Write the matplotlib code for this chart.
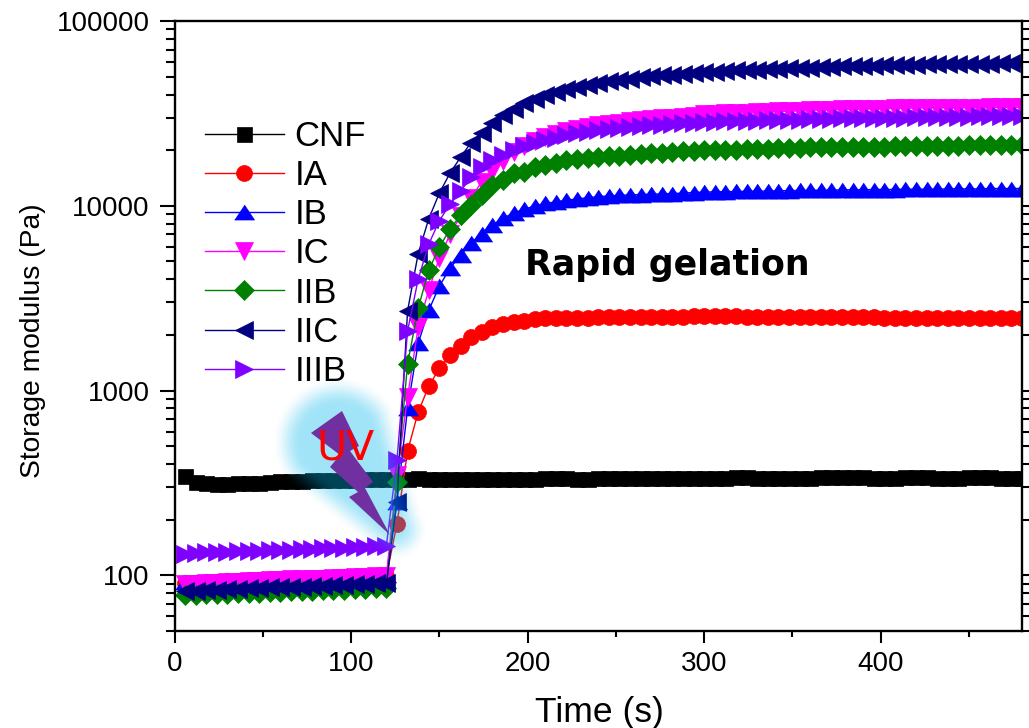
import numpy as np
import matplotlib
matplotlib.use("Agg")
import matplotlib.pyplot as plt
from matplotlib.ticker import FixedLocator, NullFormatter
from matplotlib.patches import Polygon

plt.rcParams["font.family"] = ["Liberation Sans", "DejaVu Sans"]

# time axis, one reading every 6 s
time_s = [6, 12, 18, 24, 30, 36, 42, 48, 54, 60, 66, 72, 78, 84, 90, 96, 102, 108, 114, 120,
          126, 132, 138, 144, 150, 156, 162, 168, 174, 180, 186, 192, 198, 204, 210, 216, 222, 228, 234, 240,
          246, 252, 258, 264, 270, 276, 282, 288, 294, 300, 306, 312, 318, 324, 330, 336, 342, 348, 354, 360,
          366, 372, 378, 384, 390, 396, 402, 408, 414, 420, 426, 432, 438, 444, 450, 456, 462, 468, 474, 480]

cnf = [345, 322, 316, 314, 314, 315, 316, 318, 321, 323, 325, 326, 327, 328, 329, 330, 330, 331, 331, 332,
       332, 334, 335, 334, 333, 332, 331, 331, 332, 332, 333, 333, 334, 334, 335, 335, 335, 334, 334, 335,
       335, 336, 336, 336, 335, 335, 336, 336, 337, 337, 337, 338, 339, 339, 338, 338, 337, 337, 338, 338,
       339, 339, 340, 340, 339, 338, 338, 338, 339, 339, 339, 338, 338, 338, 339, 339, 339, 338, 338, 338]
ia = [91, 91, 92, 92, 93, 93, 94, 94, 95, 95, 96, 96, 96, 97, 97, 98, 98, 98, 99, 99,
      190, 470, 765, 1055, 1320, 1550, 1740, 1945, 2080, 2200, 2280, 2345, 2390, 2430, 2460, 2470, 2475, 2480, 2485, 2490,
      2495, 2500, 2505, 2505, 2510, 2510, 2515, 2515, 2520, 2520, 2520, 2520, 2520, 2515, 2515, 2510, 2510, 2510, 2505, 2505,
      2500, 2500, 2495, 2495, 2490, 2490, 2485, 2485, 2480, 2480, 2475, 2475, 2470, 2470, 2465, 2465, 2460, 2460, 2460, 2460]
ib = [92, 92, 93, 93, 94, 94, 95, 95, 96, 96, 97, 97, 98, 98, 99, 99, 100, 100, 101, 101,
      250, 800, 1800, 2720, 3670, 4590, 5400, 6260, 7080, 7860, 8570, 9120, 9550, 10000, 10300, 10500, 10700, 10900, 11050, 11200,
      11300, 11400, 11450, 11500, 11550, 11600, 11650, 11700, 11800, 11860, 11900, 11920, 11950, 11980, 12000, 12020, 12050, 12080, 12100, 12120,
      12150, 12150, 12200, 12200, 12200, 12250, 12250, 12250, 12300, 12300, 12300, 12300, 12350, 12350, 12350, 12350, 12400, 12400, 12400, 12400]
ic = [90, 90, 91, 91, 92, 92, 93, 93, 94, 94, 95, 95, 96, 96, 97, 97, 98, 98, 99, 99,
      350, 920, 2200, 3500, 5200, 7000, 8800, 11000, 13500, 15500, 17500, 19500, 21000, 22300, 23500, 24500, 25300, 26100, 26800, 27300,
      27800, 28200, 28600, 29000, 29400, 29700, 30000, 30300, 30800, 31300, 31500, 31600, 31800, 31900, 32000, 32200, 32400, 32500, 32700, 32800,
      33000, 33100, 33200, 33300, 33400, 33500, 33600, 33700, 33800, 33800, 33900, 33900, 34000, 34000, 34000, 34000, 34100, 34100, 34100, 34100]
iib = [78, 78, 79, 79, 79, 80, 80, 80, 81, 81, 82, 82, 82, 83, 83, 83, 84, 84, 85, 85,
       320, 1390, 2790, 4480, 5970, 7470, 8890, 10070, 11400, 12900, 13770, 15000, 15200, 16200, 16600, 17000, 17700, 18000, 18200, 18300,
       18500, 18700, 18900, 19000, 19300, 19400, 19500, 19700, 19900, 20000, 20050, 20100, 20150, 20200, 20300, 20400, 20450, 20500, 20600, 20700,
       20700, 20750, 20800, 20800, 20850, 20900, 20900, 20950, 21000, 21000, 21050, 21100, 21100, 21150, 21200, 21200, 21250, 21300, 21300, 21300]
iic = [82, 82, 83, 83, 84, 84, 85, 85, 86, 86, 87, 87, 88, 88, 89, 89, 90, 90, 91, 91,
       250, 2700, 5500, 8500, 11700, 15000, 18300, 22000, 24800, 28000, 31000, 33500, 36000, 38000, 40000, 41500, 43000, 44200, 45300, 46300,
       47200, 48000, 48800, 49500, 50200, 50800, 51300, 51800, 52400, 52800, 53200, 53600, 54000, 54300, 54600, 54900, 55200, 55500, 55800, 56000,
       56300, 56500, 56800, 57000, 57200, 57400, 57600, 57800, 58000, 58100, 58200, 58300, 58400, 58500, 58600, 58700, 58800, 58900, 58900, 59000]
iiib = [131, 132, 133, 133, 134, 135, 135, 136, 137, 137, 138, 139, 139, 140, 141, 141, 142, 143, 144, 145,
        420, 2100, 4000, 6200, 8300, 10200, 12000, 14300, 16200, 17700, 18900, 19950, 21000, 21800, 22600, 23400, 24100, 24700, 25200, 25700,
        26100, 26400, 26700, 27000, 27300, 27500, 27700, 27900, 28200, 28400, 28500, 28600, 28700, 28800, 28900, 29000, 29100, 29200, 29300, 29400,
        29500, 29600, 29700, 29700, 29800, 29900, 29900, 30000, 30000, 30100, 30100, 30200, 30200, 30300, 30400, 30500, 30600, 30700, 30700, 30800]

LABELS = ["CNF", "IA", "IB", "IC", "IIB", "IIC", "IIIB"]
COLORS = ["black", "red", "blue", "magenta", "green", "navy", "#8000ff"]
WIDE_UP = [(-1, -0.75), (1, -0.75), (0, 0.75)]   # the up triangle is wider than tall here
MARKERS = ["s", "o", WIDE_UP, "v", "D", "<", ">"]
SIZES = [10.8, 11.5, 14.4, 12.3, 10.2, 12.3, 12.3]
SERIES = [cnf, ia, ib, ic, iib, iic, iiib]

W, H = 1029, 728
fig = plt.figure(figsize=(W / 100, H / 100), dpi=100)
ax = fig.add_axes([174.5 / W, 1 - 631 / H, (1022 - 174.5) / W, (631 - 21) / H])

for y, lab, col, mk, ms in zip(SERIES, LABELS, COLORS, MARKERS, SIZES):
    ax.plot(time_s, y, color=col, marker=mk, ms=ms, mec=col, mew=0.5, lw=1, label=lab)

ax.set_yscale("log")
ax.set_xlim(0, 480)
ax.set_ylim(50, 100000)
ax.set_xticks([0, 100, 200, 300, 400])
ax.set_xticks([50, 150, 250, 350, 450], minor=True)
ax.yaxis.set_major_locator(FixedLocator([100, 1000, 10000, 100000]))
ax.yaxis.set_major_formatter(plt.FuncFormatter(lambda v, p: f"{v:.0f}"))
ax.yaxis.set_minor_locator(FixedLocator(
    [m * 10 ** e for e in (1, 2, 3, 4) for m in range(2, 10) if 50 <= m * 10 ** e <= 100000]))
ax.yaxis.set_minor_formatter(NullFormatter())

ax.tick_params(axis="x", which="major", labelsize=20, length=8.6, width=1.5, pad=6)
ax.tick_params(axis="x", which="minor", length=4.5, width=1.5)
ax.tick_params(axis="y", which="major", labelsize=20, length=10.8, width=1.5, pad=7)
ax.tick_params(axis="y", which="minor", length=6.7, width=1.5)
ax.tick_params(axis="y", which="both", right=True)
for s in ax.spines.values():
    s.set_linewidth(1.7)

ax.set_xlabel("Time (s)", fontsize=25.5)
ax.xaxis.set_label_coords(0.501, -0.106)
ax.set_ylabel("Storage modulus (Pa)", fontsize=20.3)
ax.yaxis.set_label_coords((30 - 174.5 + 16) / 847.5, (631 - 341) / 610)

ax.legend(loc="upper left", bbox_to_anchor=(30 / 847.5, (631 - 120) / 610), frameon=False,
          fontsize=25, handlelength=2.3, handletextpad=0.29, labelspacing=0.177,
          borderaxespad=0, borderpad=0)

# overlay in pixel coordinates for the UV glow and the bolt
ov = fig.add_axes([0, 0, 1, 1], facecolor="none")
ov.axis("off")

xx, yy = np.meshgrid(np.arange(260, 440), np.arange(370, 575))
p0, p1 = np.array([338, 442]), np.array([395, 528])
d = p1 - p0
t = np.clip(((xx - p0[0]) * d[0] + (yy - p0[1]) * d[1]) / (d @ d), 0, 1)
dist = np.hypot(xx - p0[0] - t * d[0], yy - p0[1] - t * d[1])
rad = 52 - 34 * t
a = np.clip((rad - dist) / 30 + 0.5, 0, 1)
a = a * a * (3 - 2 * a) * 0.37
glow = np.zeros(xx.shape + (4,))
glow[..., 1] = 182 / 255
glow[..., 2] = 236 / 255
glow[..., 3] = a
ov.imshow(glow, extent=(260, 440, 575, 370), aspect="auto", interpolation="bilinear", zorder=1)
ov.set_xlim(0, W)
ov.set_ylim(H, 0)

bolt = [(342, 411), (359, 446), (350, 451), (373, 482), (365, 488), (390, 535),
        (349, 497), (358, 492), (330, 467), (340, 455), (311, 433)]
ov.add_patch(Polygon(bolt, closed=True, fc="#7030a0", ec="none", zorder=2))
ov.text(345.5, 460, "UV", color="red", fontsize=29.5, family="DejaVu Sans", ha="center", va="baseline", zorder=3)
ov.text(667, 275, "Rapid gelation", color="black", fontsize=25, family="DejaVu Sans",
        weight="bold", ha="center", va="baseline", zorder=3)

fig.savefig("out.png", dpi=100)
